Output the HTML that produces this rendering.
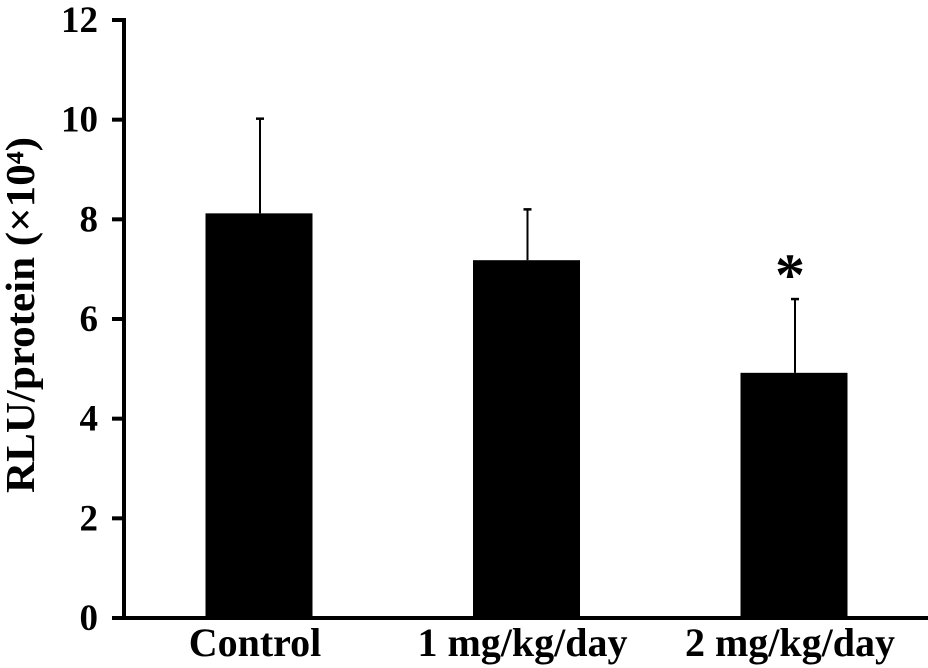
<!DOCTYPE html>
<html><head><meta charset="utf-8"><style>
html,body{margin:0;padding:0;background:#fff;}
svg{display:block;font-family:"Liberation Serif",serif;font-weight:bold;}
</style></head><body>
<svg id="chart" width="928" height="668" viewBox="0 0 928 668" xmlns="http://www.w3.org/2000/svg"></svg>
<script>
const categories = ["Control", "1 mg/kg/day", "2 mg/kg/day"];
const means = [8.12, 7.18, 4.92];
const errors = [1.9, 1.02, 1.48];
const significant = [false, false, true];
const yTicks = [0, 2, 4, 6, 8, 10, 12];

const svg = document.getElementById('chart');
const NS = 'http://www.w3.org/2000/svg';
const y0 = 618, yTop = 20, yMax = 12;
const y = v => y0 - (v / yMax) * (y0 - yTop);
const xCenter = i => 259 + i * 267.5;
const barW = 107;
function mk(tag, attrs, parent) {
  const e = document.createElementNS(NS, tag);
  for (const k in attrs) e.setAttribute(k, attrs[k]);
  (parent || svg).appendChild(e);
  return e;
}

const yAxis = mk('line', {x1:124, y1:yTop-2, x2:124, y2:y0+2, stroke:'#000', 'stroke-width':4});


const xAxis = mk('line', {x1:112, y1:y0, x2:928, y2:y0, stroke:'#000', 'stroke-width':4});



yTicks.forEach(t => {
  const tk = mk('line', {x1:112, y1:y(t), x2:124, y2:y(t), stroke:'#000', 'stroke-width':4});
  
  
  const lb = mk('text', {x:98, y:y(t)+12, 'text-anchor':'end', 'font-size':37});
  lb.textContent = t;
  
  
});

categories.forEach((c, i) => {
  const cx = xCenter(i);
  const bar = mk('rect', {x:cx - barW/2, y:y(means[i]), width:barW, height:y0 - y(means[i]), fill:'#000'});
  
  
  const eTop = y(means[i] + errors[i]);
  const el = mk('line', {x1:cx+1, y1:eTop, x2:cx+1, y2:y(means[i]), stroke:'#000', 'stroke-width':2});
  
  
  const cap = mk('line', {x1:cx-3, y1:eTop, x2:cx+5, y2:eTop, stroke:'#000', 'stroke-width':2.5});
  
  
  const lb = mk('text', {x:cx - 4, y:656, 'text-anchor':'middle', 'font-size':40});
  lb.textContent = c;
  
  
  if (significant[i]) {
    const st = mk('text', {x:cx-4, y:eTop - 4, 'text-anchor':'middle', 'font-size':60});
    st.textContent = '*';
    
    
  }
});

const title = mk('text', {x:0, y:0, 'text-anchor':'middle', 'font-size':41, textLength:356, lengthAdjust:'spacingAndGlyphs', transform:'translate(34,315) rotate(-90)'});
title.textContent = 'RLU/protein (×10⁴)';


</script>
</body></html>
